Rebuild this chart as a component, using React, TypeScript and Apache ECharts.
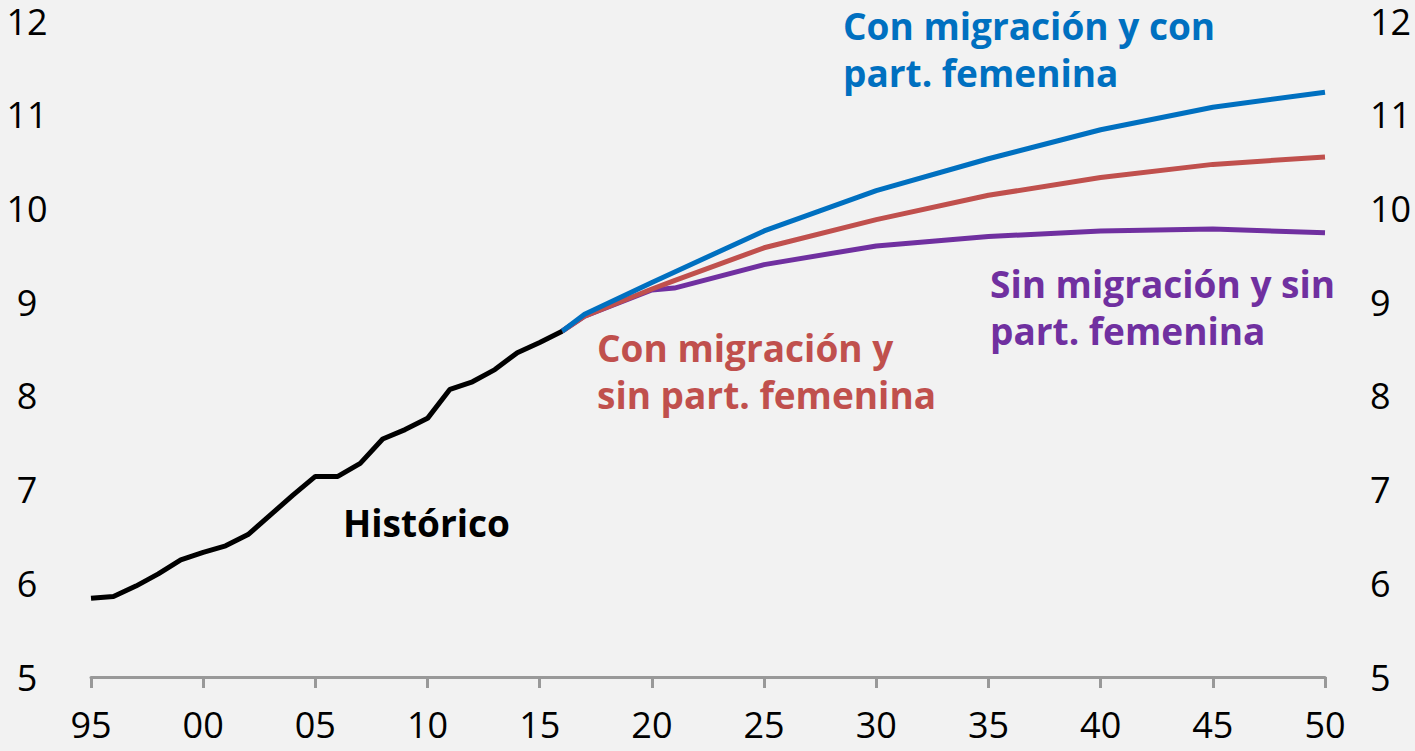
import React, { useEffect, useRef } from "react";
import * as echarts from "echarts";

const historicYears = [1995, 1996, 1997, 1998, 1999, 2000, 2001, 2002, 2003, 2004, 2005, 2006, 2007, 2008, 2009, 2010, 2011, 2012, 2013, 2014, 2015, 2016];
const historicValues = [5.84, 5.86, 5.97, 6.1, 6.25, 6.33, 6.4, 6.52, 6.73, 6.94, 7.14, 7.14, 7.28, 7.54, 7.64, 7.76, 8.07, 8.15, 8.28, 8.46, 8.57, 8.69];

const blueYears = [2016, 2017, 2020, 2025, 2030, 2035, 2040, 2045, 2050];
const blueValues = [8.69, 8.87, 9.21, 9.76, 10.19, 10.53, 10.84, 11.08, 11.24];

const redYears = [2016, 2017, 2020, 2021, 2025, 2030, 2035, 2040, 2045, 2050];
const redValues = [8.69, 8.85, 9.14, 9.23, 9.58, 9.88, 10.14, 10.33, 10.47, 10.55];

const purpleYears = [2016, 2017, 2020, 2021, 2025, 2030, 2035, 2040, 2045, 2050];
const purpleValues = [8.69, 8.85, 9.13, 9.15, 9.4, 9.6, 9.7, 9.76, 9.78, 9.74];

const seriesNames = [
  "Histórico",
  "Con migración y con part. femenina",
  "Con migración y sin part. femenina",
  "Sin migración y sin part. femenina",
];

const zip = (xs: number[], ys: number[]) => xs.map((x, i) => [x, ys[i]]);

const FONT = "'Open Sans', 'Noto Sans', sans-serif";

export default function App() {
  const ref = useRef<HTMLDivElement>(null);
  useEffect(() => {
    if (!ref.current) return;
    const chart = echarts.init(ref.current, null, { renderer: "svg" });
    const labelStyle = { color: "#000", fontSize: 36, lineHeight: 30, fontFamily: FONT };
    const annot = (text: string, x: number, y: number, color: string) => ({
      type: "text",
      style: {
        text,
        x,
        y,
        fill: color,
        font: `bold 37px ${FONT}`,
        textAlign: "left",
        textVerticalAlign: "middle",
      },
    });
    chart.setOption({
      animation: false,
      backgroundColor: "#f2f2f2",
      grid: { left: 91, right: 90, top: 21, bottom: 74, containLabel: false },
      xAxis: {
        type: "value",
        min: 1995,
        max: 2050,
        interval: 5,
        axisLine: { show: true, lineStyle: { color: "#999", width: 3 } },
        axisTick: { show: true, length: 11, lineStyle: { color: "#999", width: 3 } },
        splitLine: { show: false },
        axisLabel: {
          ...labelStyle,
          margin: 32,
          formatter: (v: number) => String(v % 100).padStart(2, "0"),
        },
      },
      yAxis: [
        {
          type: "value",
          min: 5,
          max: 12,
          interval: 1,
          axisLine: { show: false },
          axisTick: { show: false },
          splitLine: { show: false },
          axisLabel: { ...labelStyle, margin: 64, align: "center" },
        },
        {
          type: "value",
          min: 5,
          max: 12,
          interval: 1,
          position: "right",
          axisLine: { show: false },
          axisTick: { show: false },
          splitLine: { show: false },
          axisLabel: { ...labelStyle, margin: 45, align: "left" },
        },
      ],
      series: [
        {
          name: seriesNames[3],
          type: "line",
          data: zip(purpleYears, purpleValues),
          showSymbol: false,
          lineStyle: { color: "#7030a0", width: 5 },
          z: 2,
        },
        {
          name: seriesNames[2],
          type: "line",
          data: zip(redYears, redValues),
          showSymbol: false,
          lineStyle: { color: "#c0504d", width: 5 },
          z: 3,
        },
        {
          name: seriesNames[1],
          type: "line",
          data: zip(blueYears, blueValues),
          showSymbol: false,
          lineStyle: { color: "#0070c0", width: 5 },
          z: 4,
        },
        {
          name: seriesNames[0],
          type: "line",
          data: zip(historicYears, historicValues),
          showSymbol: false,
          lineStyle: { color: "#000000", width: 5 },
          z: 5,
        },
      ],
      graphic: [
        annot("Con migración y con", 843, 25, "#0070c0"),
        annot("part. femenina", 843, 72, "#0070c0"),
        annot("Con migración y", 597, 347, "#c0504d"),
        annot("sin part. femenina", 597, 394, "#c0504d"),
        annot("Sin migración y sin", 990, 283, "#7030a0"),
        annot("part. femenina", 990, 330, "#7030a0"),
        annot("Histórico", 343, 522, "#000000"),
      ],
    });
    return () => chart.dispose();
  }, []);
  return (
    <div
      ref={ref}
      style={{ position: "fixed", left: 0, top: 0, width: 1415, height: 751 }}
    />
  );
}
